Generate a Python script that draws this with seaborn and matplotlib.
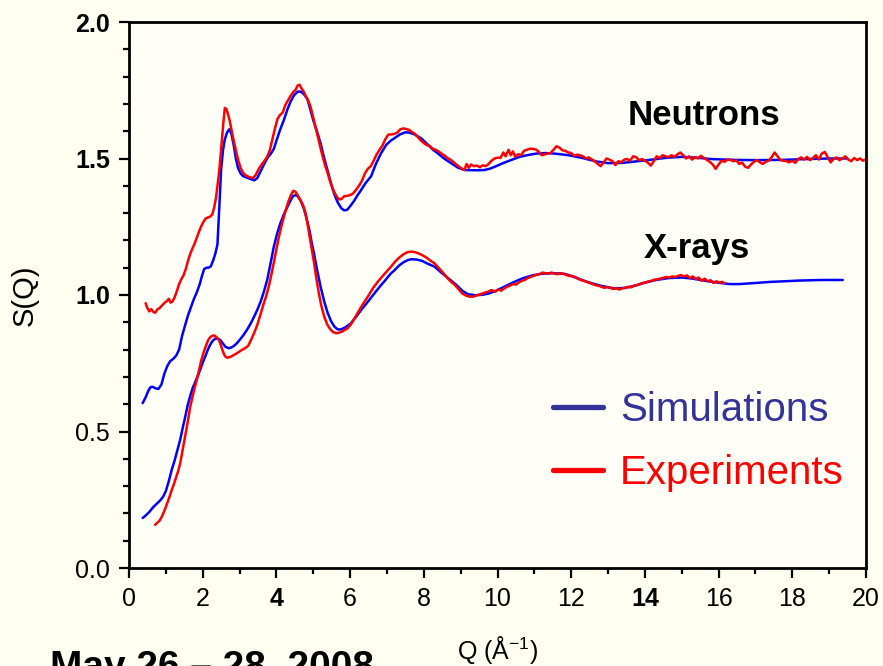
import matplotlib
matplotlib.use("Agg")
import matplotlib.pyplot as plt
from matplotlib.lines import Line2D
import seaborn as sns
import pandas as pd

# ---- S(Q) curves: (Q in 1/Angstrom, S(Q)) ----
neutron_sim = [
    (0.37, 0.604), (0.45, 0.625), (0.52, 0.648), (0.58, 0.662), (0.64, 0.664), (0.72, 0.658),
    (0.80, 0.656), (0.88, 0.672), (0.96, 0.712), (1.04, 0.740), (1.12, 0.758), (1.20, 0.766),
    (1.28, 0.778), (1.36, 0.800), (1.44, 0.850), (1.52, 0.888), (1.60, 0.925), (1.68, 0.955),
    (1.76, 0.985), (1.84, 1.010), (1.92, 1.040), (1.98, 1.070), (2.04, 1.095), (2.10, 1.100),
    (2.16, 1.100), (2.22, 1.105), (2.28, 1.125), (2.34, 1.150), (2.40, 1.185), (2.45, 1.320),
    (2.50, 1.460), (2.55, 1.530), (2.60, 1.570), (2.66, 1.595), (2.72, 1.607), (2.78, 1.590),
    (2.84, 1.550), (2.90, 1.500), (2.96, 1.465), (3.03, 1.445), (3.10, 1.435), (3.20, 1.430),
    (3.30, 1.425), (3.40, 1.420), (3.48, 1.428), (3.56, 1.450), (3.65, 1.475), (3.75, 1.500),
    (3.85, 1.518), (3.93, 1.535), (4.00, 1.565), (4.10, 1.605), (4.20, 1.640), (4.30, 1.680),
    (4.39, 1.710), (4.48, 1.732), (4.58, 1.745), (4.66, 1.745), (4.75, 1.735), (4.84, 1.718),
    (4.92, 1.680), (5.00, 1.640), (5.10, 1.600), (5.20, 1.555), (5.28, 1.510), (5.38, 1.460),
    (5.48, 1.410), (5.57, 1.370), (5.66, 1.340), (5.76, 1.318), (5.84, 1.310), (5.92, 1.312),
    (6.00, 1.325), (6.11, 1.345), (6.20, 1.365), (6.30, 1.385), (6.42, 1.410), (6.57, 1.435),
    (6.70, 1.480), (6.84, 1.519), (6.98, 1.550), (7.10, 1.565), (7.20, 1.574), (7.35, 1.588),
    (7.50, 1.596), (7.60, 1.595), (7.75, 1.588), (7.93, 1.574), (8.10, 1.552), (8.25, 1.532),
    (8.38, 1.519), (8.55, 1.500), (8.75, 1.482), (8.92, 1.467), (9.10, 1.458), (9.30, 1.457),
    (9.50, 1.457), (9.65, 1.458), (9.80, 1.463), (9.93, 1.470), (10.15, 1.483), (10.38, 1.495),
    (10.60, 1.506), (10.84, 1.513), (11.05, 1.518), (11.30, 1.520), (11.55, 1.518), (11.93, 1.512),
    (12.30, 1.502), (12.65, 1.490), (13.00, 1.483), (13.40, 1.484), (13.80, 1.490), (14.20, 1.496),
    (14.60, 1.503), (15.00, 1.506), (15.40, 1.503), (15.80, 1.498), (16.40, 1.495), (17.00, 1.494),
    (17.74, 1.495), (18.40, 1.498), (19.00, 1.500), (19.50, 1.500),
]

neutron_exp = [
    (0.45, 0.970), (0.50, 0.952), (0.55, 0.940), (0.60, 0.948), (0.66, 0.938), (0.71, 0.935),
    (0.77, 0.947), (0.83, 0.952), (0.90, 0.962), (0.97, 0.972), (1.03, 0.978), (1.08, 0.986),
    (1.13, 0.972), (1.18, 0.976), (1.24, 0.992), (1.30, 1.015), (1.36, 1.040), (1.42, 1.058),
    (1.48, 1.072), (1.54, 1.095), (1.60, 1.125), (1.66, 1.150), (1.72, 1.170), (1.78, 1.188),
    (1.84, 1.210), (1.90, 1.232), (1.96, 1.252), (2.02, 1.268), (2.08, 1.280), (2.14, 1.284),
    (2.20, 1.287), (2.26, 1.295), (2.31, 1.320), (2.36, 1.355), (2.41, 1.410), (2.46, 1.470),
    (2.51, 1.550), (2.56, 1.630), (2.60, 1.685), (2.64, 1.682), (2.68, 1.665), (2.73, 1.640),
    (2.78, 1.605), (2.84, 1.565), (2.90, 1.530), (2.96, 1.495), (3.03, 1.465), (3.10, 1.447),
    (3.18, 1.437), (3.27, 1.432), (3.36, 1.428), (3.44, 1.440), (3.52, 1.462), (3.60, 1.478),
    (3.68, 1.492), (3.75, 1.507), (3.82, 1.530), (3.89, 1.570), (3.96, 1.610), (4.03, 1.645),
    (4.10, 1.660), (4.17, 1.668), (4.24, 1.695), (4.31, 1.712), (4.38, 1.728), (4.45, 1.742),
    (4.52, 1.752), (4.58, 1.768), (4.63, 1.770), (4.68, 1.757), (4.74, 1.745), (4.80, 1.728),
    (4.87, 1.710), (4.93, 1.688), (5.00, 1.650), (5.08, 1.605), (5.16, 1.560), (5.24, 1.515),
    (5.32, 1.475), (5.39, 1.447), (5.47, 1.410), (5.55, 1.382), (5.63, 1.362), (5.70, 1.350),
    (5.77, 1.352), (5.84, 1.362), (5.92, 1.363), (6.00, 1.366), (6.08, 1.372), (6.16, 1.385),
    (6.24, 1.400), (6.32, 1.418), (6.40, 1.445), (6.48, 1.462), (6.56, 1.472), (6.64, 1.492),
    (6.72, 1.515), (6.80, 1.532), (6.88, 1.548), (6.96, 1.572), (7.04, 1.588), (7.12, 1.588),
    (7.20, 1.590), (7.28, 1.595), (7.36, 1.607), (7.44, 1.610), (7.52, 1.608), (7.60, 1.605),
    (7.68, 1.597), (7.76, 1.590), (7.84, 1.578), (7.92, 1.566), (8.00, 1.557), (8.08, 1.549),
    (8.16, 1.546), (8.24, 1.536), (8.32, 1.532), (8.40, 1.526), (8.48, 1.518), (8.56, 1.511),
    (8.64, 1.502), (8.72, 1.496), (8.80, 1.488), (8.88, 1.478), (8.96, 1.470), (9.04, 1.462),
    (9.10, 1.458), (9.16, 1.480), (9.22, 1.466), (9.28, 1.478), (9.36, 1.472), (9.44, 1.474),
    (9.52, 1.468), (9.60, 1.475), (9.68, 1.472), (9.76, 1.480), (9.84, 1.492), (9.92, 1.500),
    (10.00, 1.503), (10.08, 1.502), (10.16, 1.522), (10.22, 1.508), (10.30, 1.532), (10.36, 1.512),
    (10.42, 1.526), (10.48, 1.506), (10.56, 1.516), (10.64, 1.512), (10.72, 1.528), (10.80, 1.532),
    (10.88, 1.536), (10.96, 1.535), (11.04, 1.533), (11.12, 1.525), (11.20, 1.512), (11.28, 1.515),
    (11.36, 1.518), (11.44, 1.520), (11.52, 1.532), (11.60, 1.545), (11.68, 1.540), (11.76, 1.530),
    (11.84, 1.528), (11.92, 1.522), (12.00, 1.520), (12.08, 1.510), (12.16, 1.514), (12.24, 1.512),
    (12.32, 1.508), (12.40, 1.500), (12.48, 1.504), (12.56, 1.496), (12.64, 1.490), (12.72, 1.480),
    (12.80, 1.472), (12.88, 1.486), (12.96, 1.500), (13.04, 1.496), (13.12, 1.490), (13.20, 1.476),
    (13.28, 1.490), (13.36, 1.486), (13.44, 1.496), (13.52, 1.498), (13.60, 1.492), (13.68, 1.508),
    (13.76, 1.505), (13.84, 1.494), (13.92, 1.498), (14.00, 1.492), (14.08, 1.485), (14.16, 1.474),
    (14.24, 1.490), (14.32, 1.508), (14.40, 1.502), (14.48, 1.512), (14.56, 1.508), (14.64, 1.505),
    (14.72, 1.512), (14.80, 1.506), (14.88, 1.515), (14.96, 1.522), (15.04, 1.512), (15.12, 1.500),
    (15.20, 1.508), (15.28, 1.496), (15.36, 1.505), (15.44, 1.500), (15.52, 1.510), (15.60, 1.502),
    (15.68, 1.495), (15.76, 1.488), (15.84, 1.478), (15.92, 1.462), (16.00, 1.478), (16.08, 1.492),
    (16.16, 1.488), (16.24, 1.496), (16.32, 1.495), (16.40, 1.490), (16.48, 1.493), (16.56, 1.480),
    (16.64, 1.485), (16.72, 1.470), (16.80, 1.466), (16.88, 1.478), (16.96, 1.488), (17.04, 1.494),
    (17.12, 1.486), (17.20, 1.480), (17.28, 1.488), (17.36, 1.492), (17.44, 1.505), (17.52, 1.522),
    (17.60, 1.508), (17.68, 1.494), (17.76, 1.492), (17.84, 1.490), (17.92, 1.486), (18.00, 1.492),
    (18.08, 1.484), (18.16, 1.498), (18.24, 1.504), (18.32, 1.496), (18.40, 1.506), (18.48, 1.494),
    (18.56, 1.502), (18.64, 1.512), (18.72, 1.496), (18.80, 1.518), (18.88, 1.524), (18.96, 1.505),
    (19.04, 1.486), (19.12, 1.498), (19.20, 1.504), (19.28, 1.494), (19.36, 1.500), (19.44, 1.508),
    (19.52, 1.496), (19.60, 1.490), (19.68, 1.502), (19.76, 1.494), (19.84, 1.500), (19.92, 1.492),
    (20.00, 1.497),
]

xray_sim = [
    (0.37, 0.183), (0.45, 0.192), (0.55, 0.205), (0.65, 0.222), (0.75, 0.235), (0.85, 0.248),
    (0.93, 0.262), (1.00, 0.282), (1.08, 0.318), (1.16, 0.360), (1.24, 0.395), (1.32, 0.435),
    (1.39, 0.470), (1.46, 0.515), (1.52, 0.550), (1.59, 0.595), (1.66, 0.630), (1.73, 0.660),
    (1.80, 0.682), (1.87, 0.705), (1.93, 0.725), (2.00, 0.752), (2.07, 0.775), (2.14, 0.800),
    (2.20, 0.817), (2.27, 0.832), (2.34, 0.840), (2.41, 0.840), (2.48, 0.835), (2.55, 0.822),
    (2.62, 0.810), (2.71, 0.805), (2.78, 0.808), (2.84, 0.813), (2.92, 0.822), (3.00, 0.835),
    (3.10, 0.852), (3.20, 0.872), (3.30, 0.895), (3.40, 0.922), (3.48, 0.945), (3.57, 0.975),
    (3.66, 1.012), (3.75, 1.055), (3.84, 1.115), (3.93, 1.177), (4.02, 1.225), (4.10, 1.260),
    (4.20, 1.295), (4.30, 1.323), (4.38, 1.345), (4.45, 1.362), (4.52, 1.366), (4.58, 1.362),
    (4.66, 1.345), (4.75, 1.315), (4.82, 1.280), (4.90, 1.235), (4.96, 1.190), (5.02, 1.153),
    (5.10, 1.095), (5.20, 1.030), (5.30, 0.975), (5.39, 0.935), (5.48, 0.905), (5.57, 0.885),
    (5.66, 0.874), (5.75, 0.874), (5.85, 0.880), (5.94, 0.888), (6.02, 0.896), (6.15, 0.918),
    (6.30, 0.945), (6.48, 0.975), (6.66, 1.006), (6.82, 1.033), (6.98, 1.058), (7.10, 1.078),
    (7.20, 1.090), (7.33, 1.108), (7.45, 1.120), (7.57, 1.128), (7.66, 1.131), (7.80, 1.130),
    (7.95, 1.125), (8.10, 1.115), (8.29, 1.104), (8.45, 1.085), (8.60, 1.068), (8.75, 1.052),
    (8.90, 1.035), (9.05, 1.015), (9.20, 1.003), (9.40, 0.999), (9.60, 1.001), (9.75, 1.005),
    (9.95, 1.015), (10.15, 1.028), (10.47, 1.049), (10.70, 1.062), (10.95, 1.072), (11.20, 1.078),
    (11.50, 1.080), (11.84, 1.077), (12.10, 1.065), (12.35, 1.052), (12.56, 1.043), (12.80, 1.034),
    (13.00, 1.028), (13.20, 1.024), (13.45, 1.026), (13.70, 1.033), (14.00, 1.045), (14.30, 1.055),
    (14.65, 1.062), (15.00, 1.064), (15.30, 1.060), (15.65, 1.052), (16.00, 1.045), (16.30, 1.040),
    (16.56, 1.040), (17.00, 1.044), (17.40, 1.048), (17.74, 1.050), (18.20, 1.053), (18.80, 1.055),
    (19.37, 1.055),
]

xray_exp = [
    (0.71, 0.158), (0.76, 0.165), (0.82, 0.172), (0.88, 0.185), (0.93, 0.200), (0.99, 0.220),
    (1.05, 0.242), (1.11, 0.265), (1.16, 0.286), (1.22, 0.308), (1.28, 0.333), (1.34, 0.358),
    (1.39, 0.384), (1.44, 0.420), (1.49, 0.458), (1.54, 0.495), (1.60, 0.540), (1.66, 0.590),
    (1.72, 0.625), (1.78, 0.660), (1.84, 0.689), (1.90, 0.725), (1.96, 0.760), (2.03, 0.792),
    (2.09, 0.815), (2.15, 0.835), (2.20, 0.845), (2.25, 0.850), (2.31, 0.852), (2.37, 0.846),
    (2.43, 0.838), (2.48, 0.822), (2.53, 0.800), (2.58, 0.782), (2.62, 0.774), (2.67, 0.770),
    (2.72, 0.772), (2.78, 0.775), (2.84, 0.780), (2.92, 0.786), (3.00, 0.793), (3.08, 0.800),
    (3.16, 0.806), (3.24, 0.815), (3.32, 0.838), (3.40, 0.862), (3.48, 0.890), (3.56, 0.925),
    (3.64, 0.962), (3.72, 0.995), (3.80, 1.035), (3.88, 1.085), (3.96, 1.140), (4.04, 1.195),
    (4.11, 1.238), (4.18, 1.275), (4.25, 1.310), (4.32, 1.340), (4.39, 1.365), (4.46, 1.382),
    (4.52, 1.378), (4.58, 1.365), (4.65, 1.348), (4.72, 1.330), (4.78, 1.305), (4.84, 1.265),
    (4.90, 1.215), (4.96, 1.168), (5.02, 1.120), (5.08, 1.065), (5.15, 1.008), (5.22, 0.960),
    (5.30, 0.920), (5.38, 0.892), (5.46, 0.875), (5.54, 0.864), (5.62, 0.860), (5.70, 0.862),
    (5.78, 0.866), (5.86, 0.872), (5.93, 0.878), (6.02, 0.892), (6.12, 0.915), (6.22, 0.938),
    (6.34, 0.965), (6.48, 0.994), (6.62, 1.025), (6.76, 1.050), (6.90, 1.072), (7.02, 1.090),
    (7.11, 1.104), (7.22, 1.122), (7.34, 1.138), (7.46, 1.150), (7.56, 1.157), (7.66, 1.159),
    (7.76, 1.157), (7.86, 1.152), (7.96, 1.146), (8.08, 1.136), (8.18, 1.126), (8.29, 1.116),
    (8.40, 1.100), (8.52, 1.082), (8.64, 1.062), (8.74, 1.048), (8.84, 1.037), (8.94, 1.022),
    (9.04, 1.006), (9.14, 0.998), (9.24, 0.994), (9.34, 0.994), (9.44, 0.999), (9.54, 1.003),
    (9.64, 1.008), (9.74, 1.012), (9.84, 1.018), (9.94, 1.012), (10.02, 1.020), (10.10, 1.016),
    (10.18, 1.024), (10.26, 1.030), (10.34, 1.034), (10.42, 1.040), (10.50, 1.038), (10.58, 1.046),
    (10.66, 1.052), (10.74, 1.055), (10.82, 1.062), (10.90, 1.066), (10.98, 1.070), (11.06, 1.074),
    (11.14, 1.076), (11.22, 1.082), (11.30, 1.080), (11.38, 1.078), (11.46, 1.082), (11.54, 1.079),
    (11.62, 1.076), (11.70, 1.080), (11.78, 1.078), (11.86, 1.074), (11.94, 1.070), (12.02, 1.070),
    (12.10, 1.066), (12.18, 1.060), (12.26, 1.055), (12.34, 1.052), (12.42, 1.048), (12.50, 1.044),
    (12.58, 1.040), (12.66, 1.036), (12.74, 1.034), (12.82, 1.030), (12.90, 1.026), (12.98, 1.030),
    (13.06, 1.026), (13.14, 1.022), (13.22, 1.026), (13.30, 1.020), (13.38, 1.024), (13.46, 1.026),
    (13.54, 1.030), (13.62, 1.028), (13.70, 1.034), (13.78, 1.036), (13.86, 1.040), (13.94, 1.044),
    (14.02, 1.046), (14.10, 1.050), (14.18, 1.052), (14.26, 1.056), (14.34, 1.058), (14.42, 1.060),
    (14.50, 1.063), (14.58, 1.066), (14.66, 1.064), (14.74, 1.068), (14.82, 1.066), (14.90, 1.070),
    (14.98, 1.073), (15.06, 1.068), (15.14, 1.072), (15.22, 1.062), (15.30, 1.068), (15.38, 1.058),
    (15.46, 1.064), (15.54, 1.052), (15.62, 1.060), (15.70, 1.050), (15.78, 1.054), (15.86, 1.044),
    (15.94, 1.050), (16.02, 1.046), (16.10, 1.048), (16.16, 1.043),
]

x_major = [0, 2, 4, 6, 8, 10, 12, 14, 16, 18, 20]
x_minor = [1, 3, 5, 7, 9, 11, 13, 15, 17, 19]
y_major = [0.0, 0.5, 1.0, 1.5, 2.0]
y_minor = [0.1, 0.2, 0.3, 0.4, 0.6, 0.7, 0.8, 0.9, 1.1, 1.2, 1.3, 1.4, 1.6, 1.7, 1.8, 1.9]
y_labels = ["0.0", "0.5", "1.0", "1.5", "2.0"]
series_names = ["Simulations", "Experiments"]

SIM_COLOR = "#0000FF"
EXP_COLOR = "#FF0000"
LEGEND_SIM = "#333399"
BG = "#FFFFF1"
AX_BG = "#FFFFF8"

sns.set_theme(style="ticks")
plt.rcParams["font.family"] = ["Liberation Sans", "DejaVu Sans"]
plt.rcParams["mathtext.fontset"] = "custom"
plt.rcParams["mathtext.rm"] = "Liberation Sans"
plt.rcParams["mathtext.default"] = "regular"

fig = plt.figure(figsize=(8.83, 6.66), dpi=100, facecolor=BG)
ax = fig.add_axes([129 / 883, 98 / 666, 737 / 883, 546 / 666])
ax.set_facecolor(AX_BG)

for sim, exp in [(neutron_sim, neutron_exp), (xray_sim, xray_exp)]:
    sim_df = pd.DataFrame(sim, columns=["Q", "S"])
    exp_df = pd.DataFrame(exp, columns=["Q", "S"])
    sns.lineplot(data=sim_df, x="Q", y="S", color=SIM_COLOR, linewidth=1.8,
                 sort=False, estimator=None, ax=ax, legend=False)
    sns.lineplot(data=exp_df, x="Q", y="S", color=EXP_COLOR, linewidth=1.8,
                 sort=False, estimator=None, ax=ax, legend=False)

ax.set_xlim(0, 20)
ax.set_ylim(0, 2.0)
ax.set_xticks(x_major)
ax.set_xticks(x_minor, minor=True)
ax.set_yticks(y_major)
ax.set_yticks(y_minor, minor=True)
ax.set_xticklabels([str(v) for v in x_major], fontsize=18)
ax.set_yticklabels(y_labels, fontsize=18)
for lab in ax.get_yticklabels():
    if lab.get_text() in ("1.0", "1.5", "2.0"):
        lab.set_fontweight("bold")
for lab in ax.get_xticklabels():
    if lab.get_text() in ("4", "14"):
        lab.set_fontweight("bold")

ax.tick_params(which="major", direction="out", length=7.5, width=1.6, color="black",
               labelcolor="black", pad=6)
ax.tick_params(which="minor", direction="out", length=4, width=1.6, color="black")
ax.tick_params(top=False, right=False, which="both")
for side in ["left", "right", "top", "bottom"]:
    ax.spines[side].set_visible(True)
    ax.spines[side].set_color("black")
    ax.spines[side].set_linewidth(2.0)

ax.set_xlabel("Q (Å$^{-1}$)", fontsize=18, color="black")
ax.set_ylabel("S(Q)", fontsize=21, color="black")
ax.xaxis.set_label_coords(0.5, -0.12)
ax.yaxis.set_label_coords(-0.122, 0.5)

ax.text(15.6, 1.656, "Neutrons", ha="center", va="center", fontsize=25, fontweight="bold",
        color="black")
ax.text(15.42, 1.172, "X-rays", ha="center", va="center", fontsize=25, fontweight="bold",
        color="black")

handles = [Line2D([], [], color=LEGEND_SIM, linewidth=3.8),
           Line2D([], [], color=EXP_COLOR, linewidth=3.8)]
ax.legend(handles, series_names, loc="center left", bbox_to_anchor=(0.575, 0.231),
          frameon=False, fontsize=29, handlelength=1.25, handletextpad=0.42,
          labelspacing=0.62, borderpad=0, borderaxespad=0,
          labelcolor=[LEGEND_SIM, EXP_COLOR])

fig.text(50 / 883, -12 / 666, "May 26 – 28, 2008", fontsize=28, fontweight="bold",
         ha="left", va="baseline", color="black")

fig.savefig("out.png", dpi=100, facecolor=fig.get_facecolor())
